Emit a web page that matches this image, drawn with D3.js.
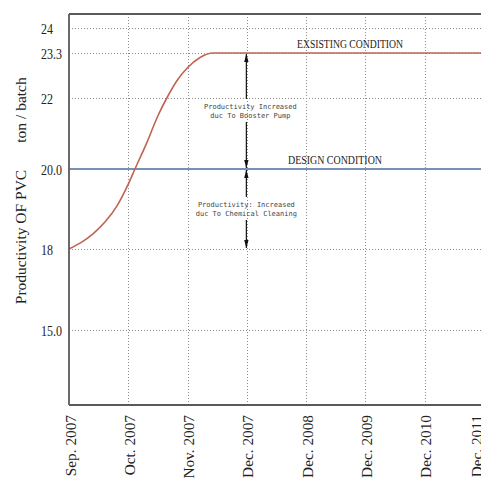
<!DOCTYPE html>
<html><head><meta charset="utf-8">
<script src="https://cdn.jsdelivr.net/npm/d3@7"></script>
<style>
html,body{margin:0;padding:0;background:#fff;}
svg{display:block;}
</style></head>
<body>
<svg id="chart" width="481" height="478"></svg>
<script>
const categories = ["Sep. 2007","Oct. 2007","Nov. 2007","Dec. 2007","Dec. 2008","Dec. 2009","Dec. 2010","Dec. 2011"];
const yTickValues = [24, 23.3, 22, 20.0, 18, 15.0];
const yTickLabels = ["24","23.3","22","20.0","18","15.0"];
const gridValues = [24, 23.3, 22, 18, 15.0];
const existingIdx = [0, 0.2, 0.405, 0.61, 0.81, 1.0, 1.113, 1.315, 1.5, 1.65, 1.82, 1.99, 2.21, 2.43, 3, 4, 5, 6, 7, 7.5];
const existingVal = [18, 18.16, 18.38, 18.68, 19.08, 19.62, 20.0, 20.75, 21.5, 22.0, 22.5, 22.86, 23.17, 23.3, 23.3, 23.3, 23.3, 23.3, 23.3, 23.3];
const designValue = 20.0;
const existingLabel = "EXSISTING CONDITION";
const designLabel = "DESIGN CONDITION";
const yTitle1 = "Productivity OF PVC";
const yTitle2 = "ton / batch";
const annoFrom = [20.0, 18];
const annoTo = [23.3, 20.0];
const annoText = [["Productivity Increased","duc To Booster Pump"],["Productivity: Increased","duc To Chemical Cleaning"]];
const annoCategory = 3;

(function(){
const mLeft = 69, mTop = 14, mBottom = 405, mRight = 481;
const svg = d3.select("#chart");
const serif = "'Liberation Serif', 'DejaVu Serif', serif";

const x = d3.scaleLinear().domain([0, 7]).range([mLeft, 484]);
// the original axis is unevenly spaced: piecewise linear scale
const y = d3.scaleLinear().domain([15, 18, 20, 22, 23.3, 24]).range([330, 249, 169, 98, 53, 28]);

function condense(sel, ratio){
  sel.each(function(){
    const w = this.getComputedTextLength();
    d3.select(this).attr("textLength", w*ratio).attr("lengthAdjust","spacingAndGlyphs");
  });
}

// grid
const grid = svg.append("g").attr("stroke","#8a8a8a").attr("stroke-width",1).attr("stroke-dasharray","1,2").attr("fill","none");
grid.selectAll("line.h").data(gridValues).join("line").attr("class","h")
  .attr("x1", mLeft).attr("x2", mRight).attr("y1", d=>Math.round(y(d))+0.5).attr("y2", d=>Math.round(y(d))+0.5);
grid.selectAll("line.v").data(d3.range(1, categories.length)).join("line").attr("class","v")
  .attr("x1", d=>Math.round(x(d))+0.5).attr("x2", d=>Math.round(x(d))+0.5).attr("y1", mTop).attr("y2", mBottom);

// design line
svg.append("line").attr("x1", mLeft).attr("x2", mRight).attr("y1", y(designValue)).attr("y2", y(designValue))
  .attr("stroke","#4a6d9c").attr("stroke-width",1.6);

// existing curve
const pts = existingIdx.map((d,i)=>[d, existingVal[i]]);
svg.append("path").datum(pts)
  .attr("d", d3.line().x(d=>x(d[0])).y(d=>y(d[1])).curve(d3.curveMonotoneX))
  .attr("fill","none").attr("stroke","#bf6450").attr("stroke-width",1.6);

// frame
const frame = svg.append("g").attr("stroke","#5a5a5a").attr("fill","none");
frame.append("line").attr("x1", mLeft).attr("x2", mRight).attr("y1", mTop).attr("y2", mTop).attr("stroke-width",1.8);
frame.append("line").attr("x1", mLeft).attr("x2", mLeft).attr("y1", mTop).attr("y2", mBottom).attr("stroke-width",1.8);
frame.append("line").attr("x1", mLeft).attr("x2", mRight).attr("y1", mBottom).attr("y2", mBottom).attr("stroke-width",1.8);

// y axis labels
const yAxis = svg.append("g").attr("transform", `translate(${mLeft},0)`)
  .call(d3.axisLeft(y).tickValues(yTickValues).tickFormat((d,i)=>yTickLabels[i]).tickSize(0));
yAxis.select(".domain").remove();
yAxis.selectAll("text").attr("x", -28).attr("text-anchor","start").attr("dy","0.35em")
  .attr("font-family", serif).attr("font-size", 15).attr("fill","#222");
condense(yAxis.selectAll("text"), 0.8);

// x axis labels
const xAxis = svg.append("g").attr("transform", `translate(0,${mBottom})`)
  .call(d3.axisBottom(x).tickValues(d3.range(categories.length)).tickFormat(i=>categories[i]).tickSize(0));
xAxis.select(".domain").remove();
xAxis.selectAll("text").attr("text-anchor","end").attr("y",0).attr("dy",0)
  .attr("transform",(d)=> d === 7 ? "translate(-3,10) rotate(-90)" : "translate(6,10) rotate(-90)")
  .attr("font-family", serif).attr("font-size", 15.3).attr("fill","#222");

// y titles
svg.append("text").attr("transform","translate(26,237) rotate(-90)").attr("text-anchor","middle")
  .attr("font-family", serif).attr("font-size", 15.5).attr("fill","#222").text(yTitle1);
svg.append("text").attr("transform","translate(26,110) rotate(-90)").attr("text-anchor","middle")
  .attr("font-family", serif).attr("font-size", 15.5).attr("fill","#222").text(yTitle2);

// condition labels
svg.append("text").attr("x", 350).attr("y", y(23.3)-5).attr("text-anchor","middle")
  .attr("font-family", serif).attr("font-size", 13.5).attr("fill","#222").text(existingLabel)
  .attr("textLength",106).attr("lengthAdjust","spacingAndGlyphs");
svg.append("text").attr("x", 335).attr("y", y(designValue)-5).attr("text-anchor","middle")
  .attr("font-family", serif).attr("font-size", 13.5).attr("fill","#222").text(designLabel)
  .attr("textLength",94).attr("lengthAdjust","spacingAndGlyphs");

// annotation arrows
const ax = x(annoCategory) - 0.5;
const anno = svg.append("g");
function head(tipY, dir){ // dir -1 up, +1 down
  const l = 8, w = 2.2;
  anno.append("path").attr("d", `M${ax},${tipY} L${ax-w},${tipY - dir*l} L${ax+w},${tipY - dir*l} Z`).attr("fill","#111");
}
annoFrom.forEach((f,i)=>{
  const y0 = y(f), y1 = y(annoTo[i]);
  const mid = (y0+y1)/2;
  anno.append("line").attr("x1",ax).attr("x2",ax).attr("y1",y1+1).attr("y2",mid-12).attr("stroke","#111").attr("stroke-width",1.2);
  anno.append("line").attr("x1",ax).attr("x2",ax).attr("y1",mid+11).attr("y2",y0-1).attr("stroke","#111").attr("stroke-width",1.2);
  head(y1+1, -1);
  head(y0-1, 1);
  const t = anno.append("text").attr("text-anchor","middle").attr("font-family","'DejaVu Sans Mono', monospace")
    .attr("font-size",7).attr("fill","#444");
  annoText[i].forEach((s,j)=>{
    t.append("tspan").attr("x", ax + (i===0?4:0)).attr("y", mid - 2 + j*9).text(s);
  });
});
})();
</script>
</body></html>
